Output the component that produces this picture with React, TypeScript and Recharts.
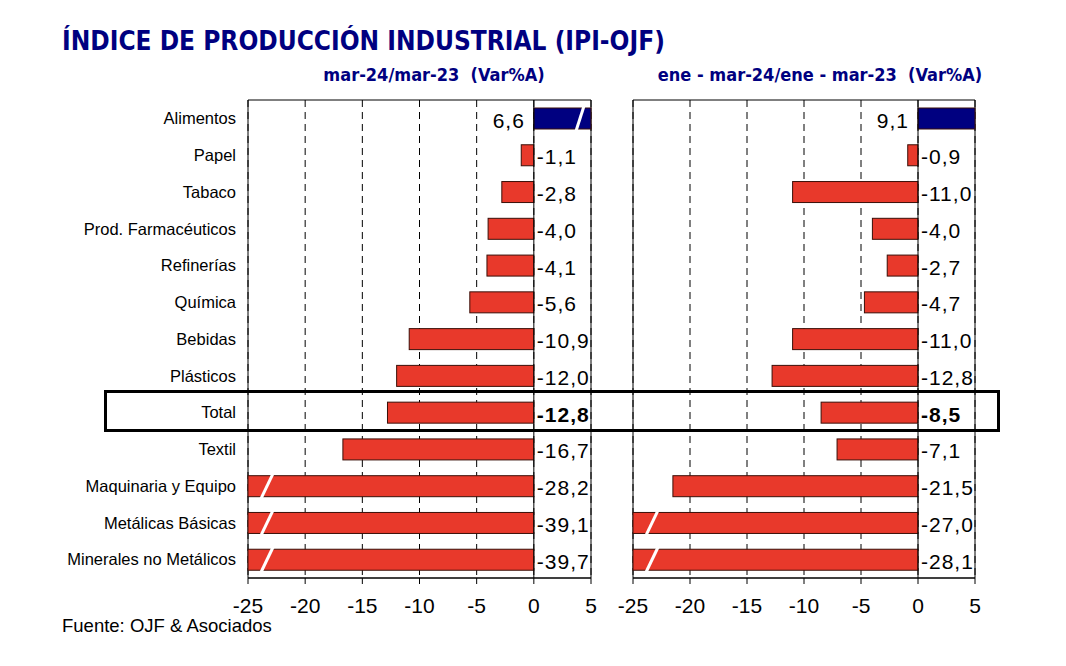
import React from 'react';
import {
  BarChart, Bar, XAxis, YAxis, CartesianGrid, ReferenceLine, ReferenceArea, LabelList,
} from 'recharts';

const categories = [
  'Alimentos', 'Papel', 'Tabaco', 'Prod. Farmacéuticos', 'Refinerías', 'Química', 'Bebidas',
  'Plásticos', 'Total', 'Textil', 'Maquinaria y Equipo', 'Metálicas Básicas', 'Minerales no Metálicos',
];
const marchValues = [6.6, -1.1, -2.8, -4.0, -4.1, -5.6, -10.9, -12.0, -12.8, -16.7, -28.2, -39.1, -39.7];
const ytdValues = [9.1, -0.9, -11.0, -4.0, -2.7, -4.7, -11.0, -12.8, -8.5, -7.1, -21.5, -27.0, -28.1];
const xTicks = [-25, -20, -15, -10, -5, 0, 5];

const X_MIN = -25;
const X_MAX = 5;
const RED = '#E8392B';
const NAVY = '#000080';
const ARIAL = '"Liberation Sans", Arial, sans-serif';
const TAHOMA = '"DejaVu Sans Condensed", "DejaVu Sans", sans-serif';

const fmt = (v: number) => v.toFixed(1).replace('.', ',');

const buildRows = (vals: number[]) =>
  categories.map((name, i) => ({
    name,
    value: vals[i],
    bar: Math.max(X_MIN, Math.min(X_MAX, vals[i])),
  }));

// bar with the little white "break" slash when the value runs off the axis
const makeShape = (slashPositive: boolean) => (props: any) => {
  const { x, y, width, height, payload } = props;
  const left = Math.min(x, x + width);
  const w = Math.abs(width);
  const v = payload.value;
  let slash = null;
  if (v < X_MIN) {
    const sx = left + 19;
    slash = <line x1={sx - 6} y1={y + height + 2} x2={sx + 6} y2={y - 2} stroke="#fff" strokeWidth={3} />;
  } else if (v > X_MAX && slashPositive) {
    const sx = left + w - 11;
    slash = <line x1={sx - 4} y1={y + height + 2} x2={sx + 4} y2={y - 2} stroke="#fff" strokeWidth={3} />;
  }
  return (
    <g>
      <rect x={left} y={y} width={w} height={height} fill={v >= 0 ? NAVY : RED} stroke="#3a0f08" strokeWidth={1} />
      {slash}
    </g>
  );
};

const ValueLabel = (props: any) => {
  const vb = props.viewBox && props.viewBox.width !== undefined ? props.viewBox : props;
  const { x, y, width, height } = vb;
  const value = Number(props.value);
  const isTotal = categories[props.index] === 'Total';
  const zero = value < 0 ? Math.max(x, x + width) : Math.min(x, x + width);
  const cy = y + height / 2;
  return (
    <text
      x={value < 0 ? zero + 3 : zero - 9}
      y={cy + 9}
      textAnchor={value < 0 ? 'start' : 'end'}
      fontFamily={ARIAL}
      fontSize={21}
      letterSpacing={1}
      fontWeight={isTotal ? 'bold' : 'normal'}
      fill="#000"
    >
      {fmt(value)}
    </text>
  );
};

interface PanelProps {
  values: number[];
  showCategories: boolean;
  slashPositive: boolean;
  width: number;
  marginLeft: number;
}

const Panel: React.FC<PanelProps> = ({ values, showCategories, slashPositive, width, marginLeft }) => (
  <BarChart
    width={width}
    height={540}
    data={buildRows(values)}
    layout="vertical"
    margin={{ top: 10, right: 20, bottom: 0, left: marginLeft }}
    barSize={21}
  >
    <CartesianGrid horizontal={false} vertical strokeDasharray="7 5" stroke="#000" />
    <XAxis
      type="number"
      domain={[X_MIN, X_MAX]}
      ticks={xTicks}
      interval={0}
      height={52}
      tickSize={6}
      tickMargin={14}
      stroke="#000"
      tick={{ fill: '#000', fontSize: 21, fontFamily: ARIAL }}
    />
    <YAxis
      type="category"
      dataKey="name"
      hide={!showCategories}
      width={240}
      interval={0}
      tickLine={false}
      axisLine={false}
      tickSize={10}
      tick={{ fill: '#000', fontSize: 16.5, fontFamily: ARIAL }}
    />
    <ReferenceArea x1={X_MIN} x2={X_MAX} fill="none" stroke="#000" strokeWidth={1} ifOverflow="visible" />
    <Bar dataKey="bar" isAnimationActive={false} shape={makeShape(slashPositive)}>
      <LabelList dataKey="value" content={ValueLabel} />
    </Bar>
    <ReferenceLine x={0} stroke="#000" strokeWidth={1} />
  </BarChart>
);

export default function App() {
  return (
    <div style={{ position: 'relative', width: 1050, height: 650, background: '#fff', fontFamily: ARIAL }}>
      <div
        style={{
          position: 'absolute', left: 54, top: 18, fontFamily: TAHOMA, fontWeight: 'bold',
          fontSize: 26, color: NAVY, whiteSpace: 'nowrap',
        }}
      >
        ÍNDICE DE PRODUCCIÓN INDUSTRIAL (IPI-OJF)
      </div>
      <div
        style={{
          position: 'absolute', left: 226, width: 400, top: 56, textAlign: 'center', fontFamily: TAHOMA,
          fontWeight: 'bold', fontSize: 18, color: NAVY, whiteSpace: 'pre',
        }}
      >
        {'mar-24/mar-23  (Var%A)'}
      </div>
      <div
        style={{
          position: 'absolute', left: 612, width: 400, top: 56, textAlign: 'center', fontFamily: TAHOMA,
          fontWeight: 'bold', fontSize: 18, color: NAVY, whiteSpace: 'pre',
        }}
      >
        {'ene - mar-24/ene - mar-23  (Var%A)'}
      </div>
      <div style={{ position: 'absolute', left: 0, top: 82 }}>
        <Panel values={marchValues} showCategories slashPositive width={603} marginLeft={0} />
      </div>
      <div style={{ position: 'absolute', left: 592, top: 82 }}>
        <Panel values={ytdValues} showCategories={false} slashPositive={false} width={395} marginLeft={33} />
      </div>
      <div
        style={{
          position: 'absolute', left: 96, top: 382, width: 890, height: 36,
          border: '3px solid #000', pointerEvents: 'none',
        }}
      />
      <div
        style={{
          position: 'absolute', left: 54, top: 610, fontSize: 18.5, lineHeight: '16px',
          fontFamily: ARIAL, color: '#000',
        }}
      >
        Fuente: OJF &amp; Asociados
      </div>
    </div>
  );
}
